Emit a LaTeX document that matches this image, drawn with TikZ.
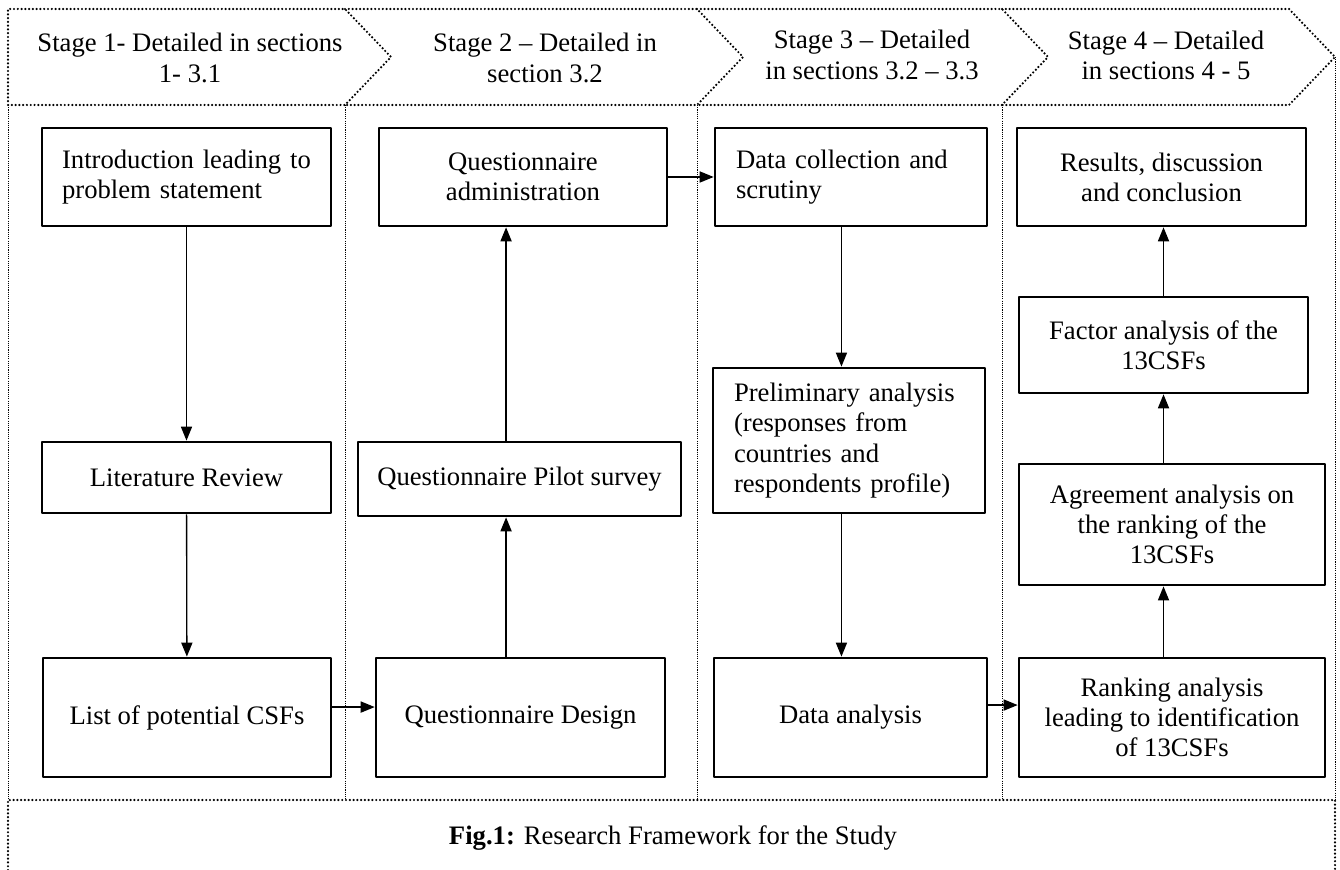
\documentclass[tikz,border=0pt]{standalone}
\usepackage{fontspec}
\setmainfont{Liberation Serif}
\usetikzlibrary{arrows.meta}

\begin{document}
\begin{tikzpicture}[x=0.45pt,y=-0.45pt,font=\fontsize{12}{13.6}\selectfont,line join=round,>={Triangle[length=6.3pt,width=5pt]},
	box/.style={draw,line width=1.2pt,inner sep=0pt,align=center},
	lbox/.style={box,align=left},
	chev/.style={line width=1.1pt,dash pattern=on 0pt off 1.7pt,line cap=round},
	divline/.style={line width=0.45pt,dash pattern=on 0.5pt off 0.5pt},
	arr/.style={->,line width=0.6pt}]
	\useasboundingbox (0,0) rectangle (1340,870);
	\draw[chev] (8,105)--(8,9)--(345,9)--(391,57)--(345,105)--cycle;
	\draw[chev] (345,9)--(697,9)--(743,57)--(697,105)--(345,105);
	\draw[chev] (697,9)--(1002,9)--(1048,57)--(1002,105)--(697,105);
	\draw[chev] (1002,9)--(1289,9)--(1335,57)--(1289,105)--(1002,105);
	\foreach \x in {8,345,697,1002}
		\draw[divline] (\x,105)--(\x,800);
	\draw[divline] (1335,57)--(1335,800);
	\draw[chev] (8,870)--(8,800)--(1335,800)--(1335,870);
	\path
	(190,58) node[align=center] (stagea) {Stage 1- Detailed in sections\\1- 3.1}
	(545,58) node[align=center] (stageb) {Stage 2 – Detailed in\\section 3.2}
	(872,55) node[align=center] (stagec) {Stage 3 – Detailed\\in sections 3.2 – 3.3}
	(1166,55) node[align=center] (staged) {Stage 4 – Detailed\\in sections 4 - 5}
	(673,838) node (caption) {\textbf{Fig.1:} Research Framework for the Study}
	;
	\node[lbox,text width=112pt,minimum width=130pt,minimum height=44.1pt] (intro) at (186.5,177) {Introduction leading to\\problem statement};
	\node[box,minimum width=130pt,minimum height=32pt] (litrev) at (186.5,477.5) {Literature Review};
	\node[box,minimum width=129.6pt,minimum height=53.6pt] (csfs) at (187,717.5) {List of potential CSFs};
	\node[box,minimum width=129.6pt,minimum height=44.1pt] (admin) at (523,177) {Questionnaire\\administration};
	\node[box,minimum width=145.4pt,minimum height=33.3pt] (pilot) at (519.5,479) {Questionnaire Pilot survey};
	\node[box,minimum width=130pt,minimum height=53.6pt] (design) at (520.5,717.5) {Questionnaire Design};
	\node[lbox,text width=103.5pt,minimum width=122.4pt,minimum height=44.1pt] (collect) at (851,177) {Data collection and\\scrutiny};
	\node[lbox,text width=103.5pt,minimum width=122.4pt,minimum height=65.3pt] (prelim) at (849,440.5) {Preliminary analysis\\(responses from\\countries and\\respondents profile)};
	\node[box,minimum width=122.9pt,minimum height=53.6pt] (analysis) at (850.5,717.5) {Data analysis};
	\node[box,minimum width=130pt,minimum height=44.1pt] (results) at (1161.5,177) {Results, discussion\\and conclusion};
	\node[box,minimum width=130pt,minimum height=43.2pt] (factor) at (1163.5,345) {Factor analysis of the\\13CSFs};
	\node[box,minimum width=137.7pt,minimum height=54.5pt] (agree) at (1172,524.5) {Agreement analysis on\\the ranking of the\\13CSFs};
	\node[box,minimum width=137.7pt,minimum height=53.6pt] (ranking) at (1172,717.5) {Ranking analysis\\leading to identification\\of 13CSFs};
	\draw[arr] (intro) -- (litrev);
	\draw[arr] (litrev) -- (csfs);
	\draw[arr] ([yshift=4.7pt]csfs.east) -- ([yshift=4.7pt]csfs.east -| design.west);
	\draw[arr] ([xshift=-6.5pt]design.north) -- ([xshift=-6.5pt]design.north |- pilot.south);
	\draw[arr] ([xshift=-6.5pt]design.north |- pilot.north) -- ([xshift=-6.5pt]design.north |- admin.south);
	\draw[arr] (admin) -- (collect);
	\draw[arr] ([xshift=-4.3pt]collect.south) -- ([xshift=-4.3pt]collect.south |- prelim.north);
	\draw[arr] ([xshift=-4.3pt]collect.south |- prelim.south) -- ([xshift=-4.3pt]collect.south |- analysis.north);
	\draw[arr] ([yshift=5.6pt]analysis.east) -- ([yshift=5.6pt]analysis.east -| ranking.west);
	\draw[arr] (factor.south |- ranking.north) -- (factor.south |- agree.south);
	\draw[arr] (factor.south |- agree.north) -- (factor.south);
	\draw[arr] (factor.north) -- (factor.north |- results.south);
\end{tikzpicture}
\end{document}
